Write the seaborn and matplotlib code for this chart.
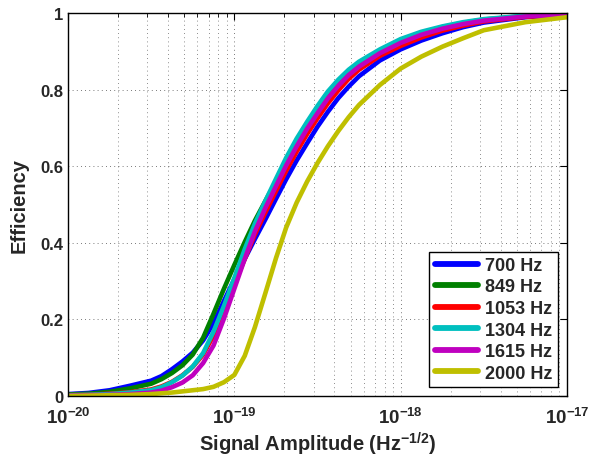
import numpy as np
import pandas as pd
import matplotlib
matplotlib.use("Agg")
import matplotlib.pyplot as plt
import seaborn as sns
from matplotlib.ticker import LogLocator, NullFormatter, FixedLocator

# -----------------------
# Data (efficiency vs signal amplitude)
# -----------------------
amplitude = [1.00e-20, 1.33e-20, 1.78e-20, 2.37e-20, 3.16e-20, 3.65e-20,
             4.22e-20, 4.87e-20, 5.62e-20, 6.49e-20, 7.50e-20, 8.66e-20,
             1.00e-19, 1.155e-19, 1.33e-19, 1.54e-19, 1.78e-19, 2.05e-19,
             2.37e-19, 2.74e-19, 3.16e-19, 3.65e-19, 4.22e-19, 4.87e-19,
             5.62e-19, 7.50e-19, 1.00e-18, 1.33e-18, 1.78e-18, 2.37e-18,
             3.16e-18, 5.62e-18, 1.00e-17]

eff_700 = [0.005, 0.008, 0.015, 0.027, 0.040, 0.052, 0.070, 0.090, 0.113,
           0.145, 0.190, 0.248, 0.305, 0.358, 0.410, 0.462, 0.515, 0.566,
           0.615, 0.660, 0.703, 0.742, 0.778, 0.808, 0.835, 0.876, 0.905,
           0.928, 0.947, 0.963, 0.975, 0.989, 0.996]
eff_849 = [0.004, 0.006, 0.011, 0.020, 0.032, 0.044, 0.060, 0.080, 0.108,
           0.152, 0.215, 0.280, 0.342, 0.402, 0.458, 0.510, 0.560, 0.614,
           0.664, 0.708, 0.749, 0.787, 0.819, 0.846, 0.868, 0.900, 0.928,
           0.948, 0.963, 0.974, 0.983, 0.992, 0.997]
eff_1053 = [0.002, 0.003, 0.006, 0.010, 0.017, 0.025, 0.037, 0.054, 0.076,
            0.108, 0.158, 0.222, 0.292, 0.358, 0.422, 0.480, 0.535, 0.588,
            0.638, 0.684, 0.725, 0.764, 0.798, 0.828, 0.852, 0.888, 0.914,
            0.936, 0.954, 0.967, 0.978, 0.990, 0.996]
eff_1304 = [0.002, 0.003, 0.005, 0.009, 0.015, 0.023, 0.036, 0.053, 0.077,
            0.112, 0.168, 0.235, 0.308, 0.383, 0.450, 0.510, 0.567, 0.622,
            0.672, 0.716, 0.757, 0.795, 0.826, 0.852, 0.873, 0.905, 0.932,
            0.951, 0.965, 0.976, 0.984, 0.993, 0.997]
eff_1615 = [0.001, 0.002, 0.003, 0.005, 0.009, 0.014, 0.023, 0.035, 0.054,
            0.086, 0.132, 0.202, 0.280, 0.358, 0.430, 0.492, 0.548, 0.602,
            0.652, 0.698, 0.738, 0.777, 0.810, 0.838, 0.860, 0.895, 0.922,
            0.943, 0.959, 0.971, 0.980, 0.991, 0.996]
eff_2000 = [0.000, 0.001, 0.002, 0.003, 0.005, 0.007, 0.009, 0.012, 0.015,
            0.018, 0.024, 0.036, 0.055, 0.105, 0.180, 0.270, 0.360, 0.440,
            0.505, 0.560, 0.608, 0.652, 0.692, 0.728, 0.760, 0.812, 0.855,
            0.886, 0.912, 0.934, 0.955, 0.976, 0.989]

labels = ["700 Hz", "849 Hz", "1053 Hz", "1304 Hz", "1615 Hz", "2000 Hz"]
series = [eff_700, eff_849, eff_1053, eff_1304, eff_1615, eff_2000]
colors = ["#0000ff", "#008000", "#ff0000", "#00bfbf", "#bf00bf", "#bfbf00"]

xtick_vals = [1e-20, 1e-19, 1e-18, 1e-17]
xtick_labels = [r"$\mathbf{10^{-20}}$", r"$\mathbf{10^{-19}}$",
                r"$\mathbf{10^{-18}}$", r"$\mathbf{10^{-17}}$"]
ytick_vals = [0, 0.2, 0.4, 0.6, 0.8, 1.0]
ytick_labels = ["0", "0.2", "0.4", "0.6", "0.8", "1"]

# long-form table for seaborn
df = pd.concat([pd.DataFrame({"Amplitude": amplitude, "Efficiency": s, "Freq": l})
                for s, l in zip(series, labels)], ignore_index=True)

# -----------------------
# Style
# -----------------------
sns.set_style("white")
plt.rcParams["font.family"] = ["Liberation Sans", "DejaVu Sans"]
plt.rcParams["font.weight"] = "bold"
plt.rcParams["mathtext.fontset"] = "custom"
plt.rcParams["mathtext.rm"] = "Liberation Sans:bold"
plt.rcParams["mathtext.bf"] = "Liberation Sans:bold"
plt.rcParams["mathtext.it"] = "Liberation Sans:bold"

fig = plt.figure(figsize=(5.89, 4.60), dpi=100)
ax = fig.add_axes([68 / 589, 1 - 397 / 460, (567 - 68) / 589, (397 - 14) / 460])

sns.lineplot(data=df, x="Amplitude", y="Efficiency", hue="Freq",
             palette=dict(zip(labels, colors)), hue_order=labels,
             linewidth=3.3, ax=ax, legend=False, sort=False)

ax.set_xscale("log")
ax.set_xlim(1e-20, 1e-17)
ax.set_ylim(0, 1)

ax.xaxis.set_major_locator(FixedLocator(xtick_vals))
ax.set_xticklabels(xtick_labels, fontsize=13.5)
ax.xaxis.set_minor_locator(LogLocator(base=10, subs=np.arange(2, 10), numticks=20))
ax.xaxis.set_minor_formatter(NullFormatter())
ax.set_yticks(ytick_vals)
ax.set_yticklabels(ytick_labels, fontsize=12, fontweight="bold")

ax.tick_params(which="both", direction="in", top=True, right=True, color="black")
ax.tick_params(which="major", length=5, width=0.8)
ax.tick_params(which="minor", length=3, width=0.6)
ax.tick_params(axis="x", pad=8)

ax.grid(True, which="major", linestyle=(0, (1, 4)), color="black", linewidth=0.6, alpha=0.7)
ax.grid(True, which="minor", axis="x", linestyle=(0, (1, 4)), color="black", linewidth=0.6, alpha=0.6)

for sp in ax.spines.values():
    sp.set_color("black")
    sp.set_linewidth(1.0)

ax.set_xlabel(r"Signal Amplitude (Hz$^{\mathbf{-1/2}}$)", fontsize=14.5, fontweight="bold", labelpad=2)
ax.set_ylabel("Efficiency", fontsize=14.5, fontweight="bold", labelpad=8)

handles = [plt.Line2D([], [], color=c, linewidth=4.2) for c in colors]
leg = ax.legend(handles, labels, loc="lower right", fontsize=13, frameon=True,
                fancybox=False, edgecolor="black", framealpha=1,
                handlelength=2.4, handletextpad=0.4, borderpad=0.3,
                labelspacing=0.25, borderaxespad=0.5)
leg.get_frame().set_linewidth(1.0)
for t in leg.get_texts():
    t.set_fontweight("bold")

fig.savefig("out.png", dpi=100)
